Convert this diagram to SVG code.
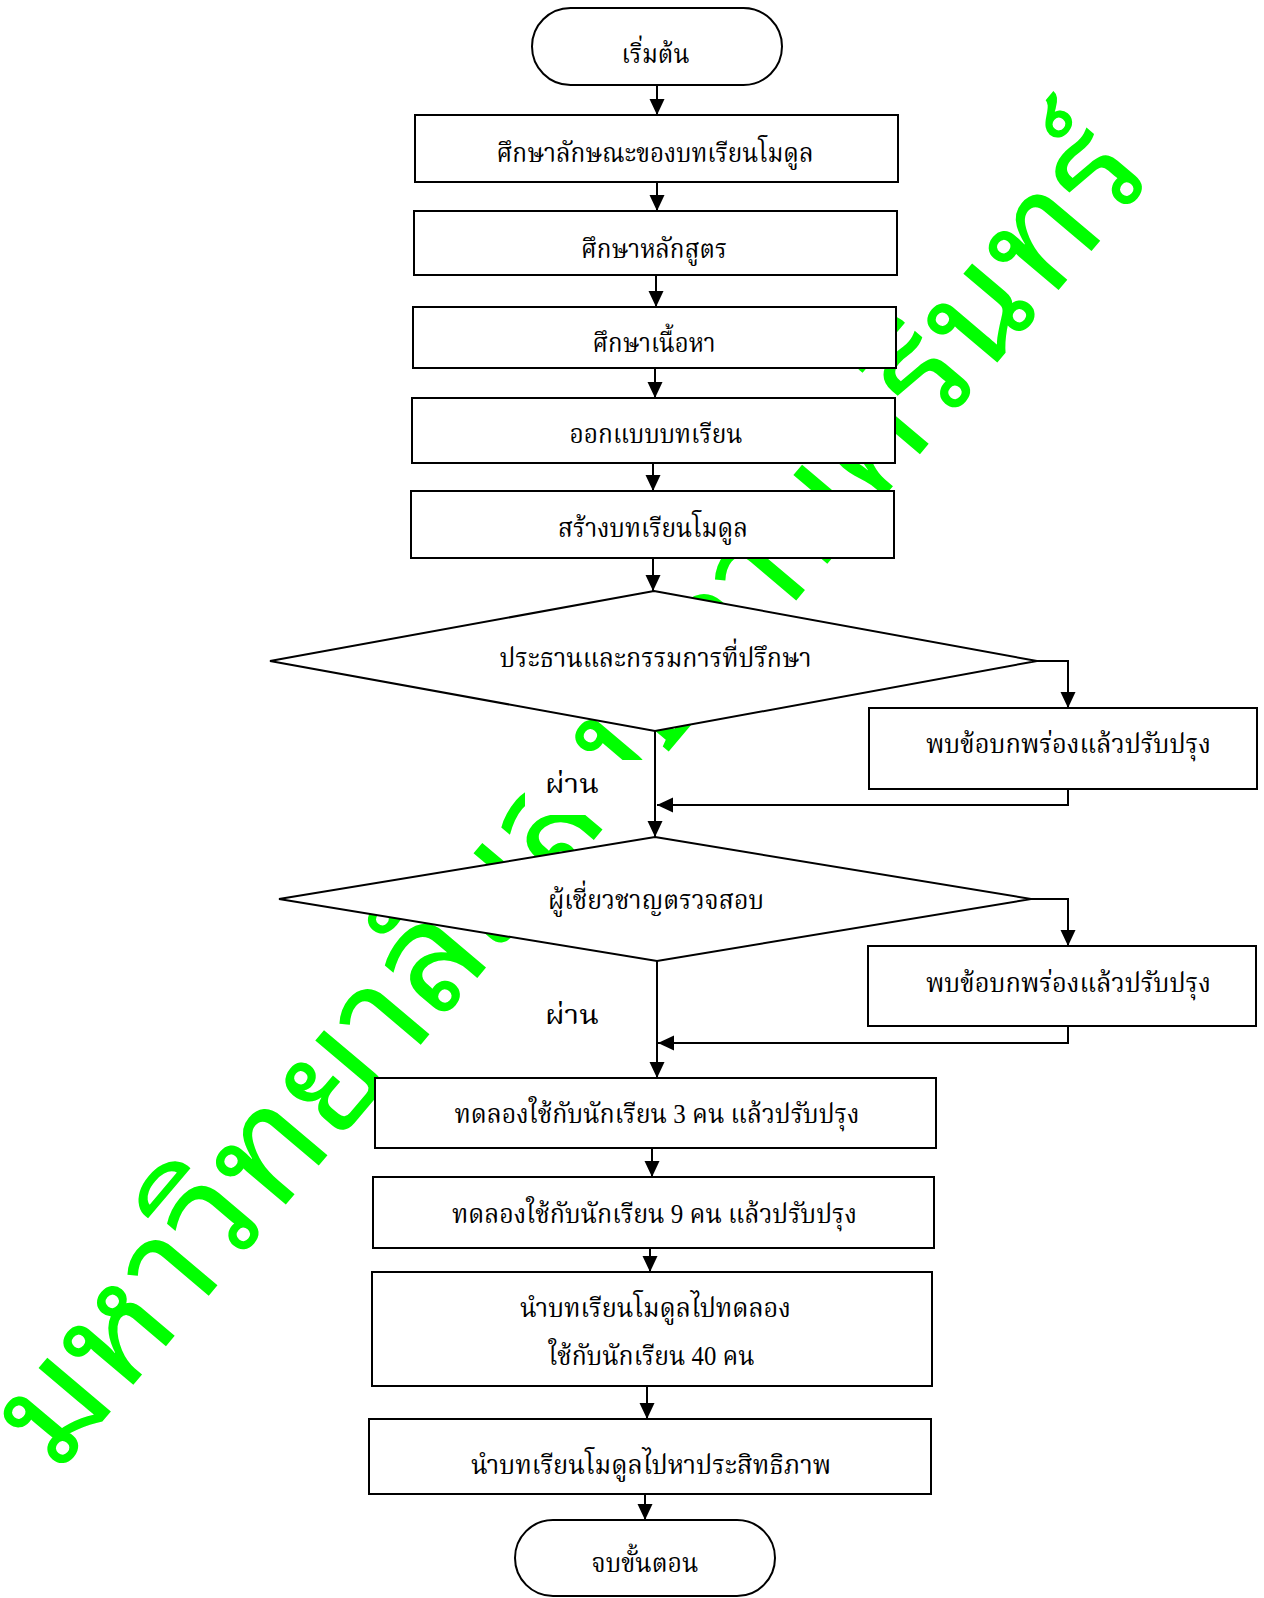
<svg xmlns="http://www.w3.org/2000/svg" width="1264" height="1598" viewBox="0 0 1264 1598">
<style>
.box{fill:#fff;stroke:#000;stroke-width:2}
.dia{fill:#fff;stroke:#000;stroke-width:2}
.conn{fill:none;stroke:#000;stroke-width:2;marker-end:url(#ah)}
.t{font-family:'Liberation Serif','Noto Serif Thai','Noto Sans Thai',serif;font-size:27px;text-anchor:middle;fill:#000}
.wm{font-family:'Noto Sans Thai Looped','Noto Sans Thai','Noto Sans',sans-serif;font-size:150px;font-weight:400;fill:#00ff00}
</style>
<defs>
<marker id="ah" markerUnits="userSpaceOnUse" markerWidth="16" markerHeight="16" refX="16" refY="7.5" orient="auto">
<path d="M0,0 L16,7.5 L0,15 Z" fill="#000"/>
</marker>
</defs>
<rect width="1264" height="1598" fill="#fff"/>
<g id="watermark">
<text class="wm" transform="translate(58,1474) rotate(-49.8)" x="0" y="0" textLength="1700">มหาวิทยาลัยสงขลานครินทร์</text>
</g>
<rect x="525" y="760" width="155" height="55" fill="#fff"/>
<g id="connectors">
<path class="conn" d="M657,85 V115"/>
<path class="conn" d="M657,182 V211"/>
<path class="conn" d="M656,275 V307"/>
<path class="conn" d="M655,368 V398"/>
<path class="conn" d="M653,463 V491"/>
<path class="conn" d="M653,558 V591"/>
<path class="conn" d="M1037,661 H1068 V708"/>
<path class="conn" d="M655,731 V837"/>
<path class="conn" d="M1068,789 V805 H657"/>
<path class="conn" d="M1031,899 H1068 V946"/>
<path class="conn" d="M657,961 V1078"/>
<path class="conn" d="M1068,1026 V1043 H658"/>
<path class="conn" d="M652,1148 V1177"/>
<path class="conn" d="M650,1248 V1272"/>
<path class="conn" d="M647,1386 V1419"/>
<path class="conn" d="M645,1494 V1520"/>
</g>
<g id="start"><rect class="box" x="532" y="8" width="250" height="77" rx="38.5"/><text class="t" x="655.5" y="63" textLength="68" lengthAdjust="spacingAndGlyphs">เริ่มต้น</text></g>
<g id="b1"><rect class="box" x="415" y="115" width="483" height="67"/><text class="t" x="655" y="161.5" textLength="317" lengthAdjust="spacingAndGlyphs">ศึกษาลักษณะของบทเรียนโมดูล</text></g>
<g id="b2"><rect class="box" x="414" y="211" width="483" height="64"/><text class="t" x="654" y="258" textLength="146" lengthAdjust="spacingAndGlyphs">ศึกษาหลักสูตร</text></g>
<g id="b3"><rect class="box" x="413" y="307" width="483" height="61"/><text class="t" x="654" y="352" textLength="123" lengthAdjust="spacingAndGlyphs">ศึกษาเนื้อหา</text></g>
<g id="b4"><rect class="box" x="412" y="398" width="483" height="65"/><text class="t" x="656" y="443" textLength="173" lengthAdjust="spacingAndGlyphs">ออกแบบบทเรียน</text></g>
<g id="b5"><rect class="box" x="411" y="491" width="483" height="67"/><text class="t" x="653" y="537" textLength="190" lengthAdjust="spacingAndGlyphs">สร้างบทเรียนโมดูล</text></g>
<g id="d1"><polygon class="dia" points="654,591 1037,661 655,731 270,661"/><text class="t" x="655.5" y="667" textLength="312" lengthAdjust="spacingAndGlyphs">ประธานและกรรมการที่ปรึกษา</text></g>
<g id="r1"><rect class="box" x="869" y="708" width="388" height="81"/><text class="t" x="1068.5" y="753" textLength="285" lengthAdjust="spacingAndGlyphs">พบข้อบกพร่องแล้วปรับปรุง</text></g>
<g id="pass1"><text class="t" x="572" y="793" textLength="54" lengthAdjust="spacingAndGlyphs">ผ่าน</text></g>
<g id="d2"><polygon class="dia" points="655,837 1031,899 657,961 279,899"/><text class="t" x="656" y="908.5" textLength="216" lengthAdjust="spacingAndGlyphs">ผู้เชี่ยวชาญตรวจสอบ</text></g>
<g id="r2"><rect class="box" x="868" y="946" width="388" height="80"/><text class="t" x="1068.5" y="992" textLength="285" lengthAdjust="spacingAndGlyphs">พบข้อบกพร่องแล้วปรับปรุง</text></g>
<g id="pass2"><text class="t" x="572" y="1024" textLength="54" lengthAdjust="spacingAndGlyphs">ผ่าน</text></g>
<g id="b6"><rect class="box" x="375" y="1078" width="561" height="70"/><text class="t" x="657" y="1123" textLength="405" lengthAdjust="spacingAndGlyphs">ทดลองใช้กับนักเรียน 3 คน แล้วปรับปรุง</text></g>
<g id="b7"><rect class="box" x="373" y="1177" width="561" height="71"/><text class="t" x="654.5" y="1222.5" textLength="405" lengthAdjust="spacingAndGlyphs">ทดลองใช้กับนักเรียน 9 คน แล้วปรับปรุง</text></g>
<g id="b8"><rect class="box" x="372" y="1272" width="560" height="114"/><text class="t" x="655.5" y="1316.5" textLength="271" lengthAdjust="spacingAndGlyphs">นำบทเรียนโมดูลไปทดลอง</text><text class="t" x="651.5" y="1365" textLength="206" lengthAdjust="spacingAndGlyphs">ใช้กับนักเรียน 40 คน</text></g>
<g id="b9"><rect class="box" x="369" y="1419" width="562" height="75"/><text class="t" x="651" y="1474" textLength="360" lengthAdjust="spacingAndGlyphs">นำบทเรียนโมดูลไปหาประสิทธิภาพ</text></g>
<g id="end"><rect class="box" x="515" y="1520" width="260" height="76" rx="38"/><text class="t" x="645" y="1571.5" textLength="107" lengthAdjust="spacingAndGlyphs">จบขั้นตอน</text></g>
</svg>
